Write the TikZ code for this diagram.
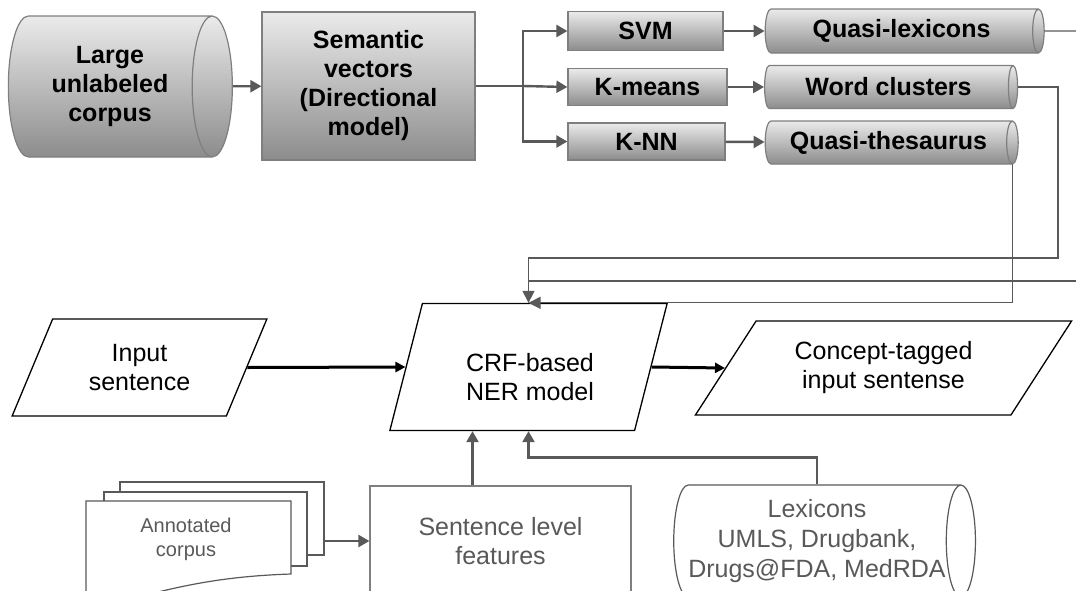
\documentclass[tikz,border=0pt]{standalone}
\usepackage{fontspec}
\setmainfont{Liberation Sans}
\usepackage{xcolor}
\usepackage{tikz}
\usetikzlibrary{arrows.meta,shapes.geometric,calc}

\definecolor{linegrey}{HTML}{595959}
\definecolor{edgegrey}{HTML}{7F7F7F}
\newcommand{\bfont}{\fontsize{25}{29}\selectfont\bfseries}
\newcommand{\nfont}{\fontsize{25}{29}\selectfont}
\newcommand{\sfont}{\fontsize{20}{24}\selectfont}

\begin{document}
\begin{tikzpicture}[x=1pt,y=-1pt,
  box/.style={rectangle,draw=edgegrey,line width=1.2pt,top color=black!8,bottom color=black!45,inner sep=0pt,align=center,font=\bfont},
  drum/.style={cylinder,shape aspect=0.5,draw=edgegrey,line width=1.2pt,top color=black!8,bottom color=black!45,inner sep=0pt,align=center,font=\bfont},
  para/.style={trapezium,trapezium stretches=true,draw=black,line width=1.3pt,fill=white,inner sep=0pt,align=center,font=\nfont},
  plainbox/.style={rectangle,draw=edgegrey,line width=1.2pt,fill=white,inner sep=0pt,text=linegrey,align=center,font=\nfont},
  sheet/.style={rectangle,draw=linegrey,line width=1.2pt,fill=white,inner sep=0pt},
  ar/.style={draw=linegrey,line width=2.4pt,-{Triangle[length=11pt,width=12pt]}},
  route/.style={draw=linegrey,line width=1.3pt},
  rar/.style={route,-{Triangle[length=12pt,width=12pt]}},
  kar/.style={draw=black,line width=3pt,-{Triangle[length=10pt,width=10pt]}}]
 \useasboundingbox (0,0) rectangle (1076,590);
 \clip (0,0) rectangle (1076,590);

 % top row
 \node[drum,minimum height=224,minimum width=141] (corp) at (110,86.5) {Large\\unlabeled\\corpus};
 \node[box,minimum width=213,minimum height=148] (sem) at (368.5,86) {Semantic\\vectors\\(Directional\\model)};
 \node[box,minimum width=155,minimum height=39] (svm) at (645.5,31) {SVM};
 \node[box,minimum width=159,minimum height=37] (km) at (647.5,87) {K-means};
 \node[box,minimum width=157,minimum height=37] (knn) at (646.5,141.5) {K-NN};
 \node[drum,minimum height=279,minimum width=44] (ql) at (901.5,31) {Quasi-lexicons};
 \node[drum,minimum height=253,minimum width=43] (wc) at (888.5,87) {Word clusters};
 \node[drum,minimum height=253,minimum width=43] (qt) at (888.5,142.5) {Quasi-thesaurus};
 \coordinate (fork) at (523,86);

 \draw[ar] (corp) -- (sem);
 \draw[route,line width=2.4pt] (sem.east) -- (fork);
 \draw[ar] (fork) |- (svm.west);
 \draw[ar] (fork) -- (km.west);
 \draw[ar] (fork) |- (knn.west);
 \draw[ar] (svm) -- (ql);
 \draw[ar] (km) -- (wc);
 \draw[ar] (knn) -- (qt);

 % middle row
 \node[para,trapezium left angle=63,trapezium right angle=117,minimum width=255,minimum height=97] (inp) at (139.5,367.5) {Input\\sentence};
 \node[para,trapezium left angle=66,trapezium right angle=114,minimum width=279,minimum height=127] (crf) at (528.5,367) {\phantom{CRF}};
 \node[font=\nfont,align=center] (crftxt) at (530,377) {CRF-based\\NER model};
 \node[para,trapezium left angle=51,trapezium right angle=129,minimum width=377,minimum height=94] (cpt) at (883.5,368) {Concept-tagged\\input sentense};
 \draw[kar] (inp.east) -- (crf.west);
 \draw[kar] (crf.east) -- (cpt.west);

 % feedback routes
 \coordinate (qlout) at (1090,31);
 \coordinate (qlin) at (1090,281);
 \coordinate (wcturn) at (1058,258);
 \coordinate (qtfoot) at ([shift={(-6pt,-21.5pt)}]qt.east);
 \draw[route] (ql.east) -- (qlout);
 \draw[route] (qlin) -- (qlin -| crf.north);
 \draw[rar] (wc.east) -| (wcturn) -| (crf.north);
 \draw[rar] (qtfoot) |- (crf.north);

 % bottom row
 \node[sheet,minimum width=204,minimum height=73] (back) at (222,518.5) {};
 \node[sheet,minimum width=203,minimum height=74] (mid) at (205.5,529) {};
 \draw[draw=linegrey,line width=1.2pt,fill=white] (86,501) -- (291,501) -- (291,574)
   .. controls (230,576) and (190,584) .. (150,594) .. controls (120,600) and (100,598) .. (86,596) -- cycle;
 \node[text=linegrey,align=center,font=\sfont] (ann) at (186,539) {Annotated\\corpus};
 \node[plainbox,minimum width=261,minimum height=110] (feat) at (500.5,541) {Sentence level\\features};
 \node[cylinder,shape aspect=0.35,draw=linegrey,line width=1.2pt,fill=white,inner sep=0pt,text=linegrey,align=center,font=\fontsize{25}{30}\selectfont,minimum height=296,minimum width=112] (lex) at (817,541) {Lexicons\\UMLS, Drugbank,\\Drugs@FDA, MedRDA};
 \coordinate (fup) at ([xshift=-28pt]feat.north);

 \draw[ar] (back.east |- feat.west) -- (feat.west);
 \draw[ar] (fup) -- (fup |- crf.south);
 \draw[ar] (lex.north) -- ++(0,-27) -| (crf.south);
\end{tikzpicture}
\end{document}
